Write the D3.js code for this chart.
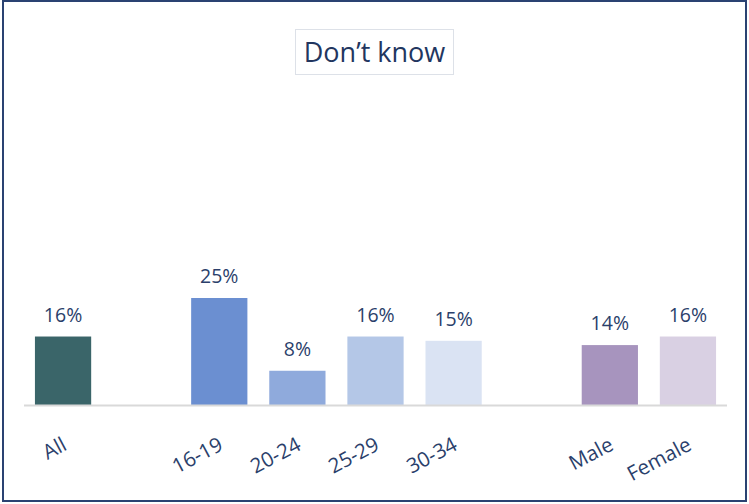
<!DOCTYPE html>
<html>
<head>
<meta charset="utf-8">
<script src="https://cdn.jsdelivr.net/npm/d3@7/dist/d3.min.js"></script>
<style>
  html, body { margin: 0; padding: 0; background: #fff; }
  svg { display: block; }
</style>
</head>
<body>
<svg id="chart" width="749" height="504"></svg>
<script>
// Share answering "Don't know", by group
const title = "Don\u2019t know";
const groups = [
  ["All"],
  ["16-19", "20-24", "25-29", "30-34"],
  ["Male", "Female"]
];
const categories = ["All", "16-19", "20-24", "25-29", "30-34", "Male", "Female"];
const values = [16, 25, 8, 16, 15, 14, 16];
const colors = ["#3A6569", "#6B8FD1", "#8FAADC", "#B4C7E7", "#DAE3F3", "#A794BE", "#D9D0E3"];

const W = 749, H = 504;
const svg = d3.select("#chart");
const textColor = "#2B3F6B";
const font = "'Open Sans', 'Noto Sans', sans-serif";

// Outer frame
svg.append("rect")
  .attr("x", 3).attr("y", 1)
  .attr("width", W - 6).attr("height", H - 4)
  .attr("fill", "#fff")
  .attr("stroke", "#2A4272")
  .attr("stroke-width", 2);

// Band domain with a blank slot between groups
const slots = [];
groups.forEach((g, i) => {
  if (i > 0) slots.push("__gap" + i);
  g.forEach(c => slots.push(c));
});

const x = d3.scaleBand()
  .domain(slots)
  .range([24, 727])
  .paddingInner(0.28)
  .paddingOuter(0.14);

const y = d3.scaleLinear()
  .domain([0, 30])
  .range([405, 276.6]);

const data = categories.map((c, i) => ({ cat: c, value: values[i], color: colors[i] }));

// Bars
svg.append("g").selectAll("rect")
  .data(data)
  .join("rect")
  .attr("x", d => x(d.cat))
  .attr("y", d => y(d.value))
  .attr("width", x.bandwidth())
  .attr("height", d => y(0) - y(d.value))
  .attr("fill", d => d.color);

// Baseline
svg.append("line")
  .attr("x1", 24).attr("x2", 727)
  .attr("y1", y(0) + 0.5).attr("y2", y(0) + 0.5)
  .attr("stroke", "#D9D9D9")
  .attr("stroke-width", 2);

// Value labels
svg.append("g").selectAll("text")
  .data(data)
  .join("text")
  .attr("x", d => x(d.cat) + x.bandwidth() / 2)
  .attr("y", d => y(d.value) - 15)
  .attr("text-anchor", "middle")
  .attr("font-family", font)
  .attr("font-size", 19.5)
  .attr("fill", textColor)
  .text(d => d.value + "%");

// Category labels, rotated
svg.append("g").selectAll("text")
  .data(data)
  .join("text")
  .attr("text-anchor", "end")
  .attr("font-family", font)
  .attr("font-size", 20.5)
  .attr("fill", textColor)
  .attr("transform", d => `translate(${x(d.cat) + x.bandwidth() / 2 + 5},${449}) rotate(-28)`)
  .text(d => d.cat);

// Title box
const titleG = svg.append("g");
titleG.append("rect")
  .attr("x", 295.5).attr("y", 29.5)
  .attr("width", 158).attr("height", 45)
  .attr("fill", "#fff")
  .attr("stroke", "#DDE1E8")
  .attr("stroke-width", 1);
titleG.append("text")
  .attr("x", 374.5)
  .attr("y", 62)
  .attr("text-anchor", "middle")
  .attr("font-family", font)
  .attr("font-size", 27)
  .attr("fill", "#22365F")
  .text(title);
</script>
</body>
</html>
